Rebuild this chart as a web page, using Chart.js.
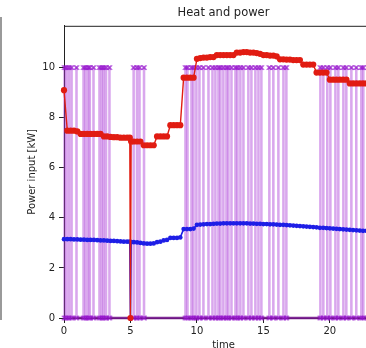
<!DOCTYPE html>
<html>
<head>
<meta charset="utf-8">
<script src="https://cdn.jsdelivr.net/npm/chart.js@4"></script>
<style>
  html, body { margin: 0; padding: 0; background: #fff; overflow: hidden; }
  #wrap { position: relative; width: 366px; height: 348px; overflow: hidden; }
  #chart { position: absolute; left: 0; top: 0; }
  /* right spine of the neighbouring subplot, cut by the crop */
  #edge { position: absolute; left: 0; top: 17px; width: 2px; height: 303px; background: #9a9a9a; }
</style>
</head>
<body>
<div id="wrap">
  <div id="edge"></div>
  <canvas id="chart" width="400" height="360"></canvas>
</div>
<script>
// sample times [h] shared by heat and power
const timeH = [0, 0.25, 0.5, 0.75, 1, 1.25, 1.5, 1.75, 2, 2.25, 2.5, 2.75, 3, 3.25, 3.5, 3.75, 4, 4.25, 4.5, 4.75,
  4.95, 5, 5.05,
  5.25, 5.5, 5.75, 6, 6.25, 6.5, 6.75, 7, 7.25, 7.5, 7.75, 8, 8.25, 8.5, 8.75, 9, 9.25, 9.5, 9.75,
  10, 10.25, 10.5, 10.75, 11, 11.25, 11.5, 11.75, 12, 12.25, 12.5, 12.75, 13, 13.25, 13.5, 13.75,
  14, 14.25, 14.5, 14.75, 15, 15.25, 15.5, 15.75, 16, 16.25, 16.5, 16.75, 17, 17.25, 17.5, 17.75,
  18, 18.25, 18.5, 18.75, 19, 19.25, 19.5, 19.75, 20, 20.25, 20.5, 20.75, 21, 21.25, 21.5, 21.75,
  22, 22.25, 22.5, 22.75, 23, 23.25, 23.5, 23.75];

// heat output [kW] (red)
const heatKW = [9.1, 7.48, 7.48, 7.48, 7.45,
  7.35, 7.35, 7.35, 7.35, 7.35, 7.35, 7.35,
  7.25, 7.25, 7.23, 7.22, 7.22, 7.2, 7.2, 7.2,
  7.2, 0, 7.05,
  7.05, 7.05, 7.05,
  6.9, 6.9, 6.9, 6.9,
  7.25, 7.25, 7.25, 7.25,
  7.7, 7.7, 7.7, 7.7,
  9.6, 9.6, 9.6, 9.6,
  10.35, 10.38, 10.4, 10.4, 10.42, 10.42,
  10.5, 10.5, 10.5, 10.5, 10.5, 10.5,
  10.6, 10.6, 10.62, 10.62, 10.6, 10.6, 10.58, 10.55,
  10.5, 10.5, 10.48, 10.48, 10.45,
  10.33, 10.33, 10.32, 10.32, 10.3, 10.3, 10.3,
  10.12, 10.12, 10.12, 10.12,
  9.8, 9.8, 9.8, 9.8,
  9.52, 9.52, 9.52, 9.52, 9.52, 9.52,
  9.37, 9.37, 9.37, 9.37, 9.37, 9.37,
  9.3, 9.3, 9.3, 9.3];

// electric power input [kW] (blue)
const powerKW = [3.15, 3.15, 3.15, 3.14, 3.14, 3.13, 3.13, 3.12, 3.12, 3.12, 3.11, 3.1, 3.1, 3.09, 3.08, 3.08, 3.07, 3.06, 3.05, 3.05,
  3.05, 0, 3.03,
  3.03, 3.02, 3.0,
  2.98, 2.97, 2.97, 2.98,
  3.03, 3.05, 3.1, 3.12,
  3.2, 3.2, 3.2, 3.22,
  3.55, 3.55, 3.55, 3.57,
  3.72, 3.73, 3.74, 3.75, 3.75, 3.76,
  3.77, 3.77, 3.78, 3.78, 3.78, 3.78,
  3.78, 3.78, 3.78, 3.78, 3.77, 3.77, 3.76, 3.76,
  3.75, 3.75, 3.74, 3.74, 3.73,
  3.72, 3.72, 3.71, 3.7, 3.69, 3.68, 3.67,
  3.66, 3.65, 3.64, 3.63,
  3.62, 3.6, 3.6, 3.59,
  3.58, 3.57, 3.56, 3.55, 3.54, 3.53,
  3.52, 3.51, 3.5, 3.49, 3.48, 3.48,
  3.47, 3.46, 3.46, 3.45];

// pump switching: on at pumpOn[i], off at pumpOff[i]
const pumpOn = [0.0, 0.15, 0.34, 0.53, 0.9, 1.43, 1.58, 1.77, 1.9, 2.18, 2.63, 2.8, 2.95, 3.12, 3.38,
  5.2, 5.45, 5.64, 5.98,
  9.1, 9.25, 9.55, 9.7, 9.92, 10.15, 10.45, 10.83, 11.13, 11.35, 11.58, 11.73, 11.95, 12.18, 12.33,
  12.56, 12.86, 13.01, 13.23, 13.46, 13.83, 14.06, 14.36, 14.59, 14.81, 15.41, 15.71, 16.09, 16.47, 16.69,
  19.25, 19.47, 19.77, 20.0, 20.38, 20.6, 20.98, 21.2, 21.58, 21.95, 22.33, 22.48, 22.85, 23.1, 23.45];
const pumpOff = [0.08, 0.23, 0.42, 0.61, 0.98, 1.51, 1.66, 1.85, 1.98, 2.26, 2.71, 2.88, 3.03, 3.2, 3.46,
  5.28, 5.53, 5.72, 6.06,
  9.18, 9.33, 9.63, 9.78, 10.0, 10.23, 10.53, 10.91, 11.21, 11.43, 11.66, 11.81, 12.03, 12.26, 12.41,
  12.64, 12.94, 13.09, 13.31, 13.54, 13.91, 14.14, 14.44, 14.67, 14.89, 15.49, 15.79, 16.17, 16.55, 16.77,
  19.33, 19.55, 19.85, 20.08, 20.46, 20.68, 21.06, 21.28, 21.66, 22.03, 22.41, 22.56, 22.93, 23.18, 23.53];
const pumpLevel = [0, 10]; // off, on

const xTicks = [0, 5, 10, 15, 20];
const yTicks = [0, 2, 4, 6, 8, 10];

const FONT = "'DejaVu Sans', sans-serif";
const INK = '#222';

const heatPts = timeH.map((t, i) => ({ x: t, y: heatKW[i] }));
const powerPts = timeH.map((t, i) => ({ x: t, y: powerKW[i] }));
const pumpPts = [];
pumpOn.forEach((t, i) => {
  pumpPts.push({ x: t, y: pumpLevel[0] }, { x: t, y: pumpLevel[1] },
               { x: pumpOff[i], y: pumpLevel[1] }, { x: pumpOff[i], y: pumpLevel[0] });
});

const atZero = c => c.p0.parsed.y === 0 && c.p1.parsed.y === 0;

// top/right spines
const frame = {
  id: 'frame',
  afterDatasetsDraw(chart) {
    const { ctx, chartArea: a } = chart;
    ctx.save();
    ctx.strokeStyle = INK;
    ctx.lineWidth = 1;
    ctx.beginPath();
    ctx.moveTo(a.left, a.top + 0.5);
    ctx.lineTo(a.right, a.top + 0.5);
    ctx.lineTo(a.right, a.bottom);
    ctx.stroke();
    ctx.restore();
  }
};

new Chart(document.getElementById('chart'), {
  type: 'line',
  data: {
    datasets: [
      {
        label: 'heat',
        data: heatPts,
        order: 1,
        borderColor: 'rgb(225,28,18)',
        borderWidth: 1.4,
        pointRadius: 3.1,
        pointBorderWidth: 0,
        pointBackgroundColor: 'rgb(225,28,18)',
        clip: 8
      },
      {
        label: 'power',
        data: powerPts,
        order: 2,
        borderColor: 'rgb(30,30,230)',
        borderWidth: 1.6,
        pointRadius: 2.3,
        pointBorderWidth: 0,
        pointBackgroundColor: 'rgb(30,30,230)',
        clip: 8
      },
      {
        label: 'pump',
        data: pumpPts,
        order: 3,
        borderColor: 'rgba(170,60,215,0.45)',
        borderWidth: 1.5,
        pointStyle: 'crossRot',
        pointRadius: 3.2,
        pointBorderWidth: 1.2,
        pointBorderColor: 'rgba(150,20,205,0.6)',
        segment: {
          borderColor: c => atZero(c) ? 'rgba(115,20,140,0.9)' : undefined,
          borderWidth: c => atZero(c) ? 2.5 : undefined
        },
        clip: 8
      }
    ]
  },
  options: {
    responsive: false,
    animation: false,
    devicePixelRatio: 1,
    layout: { padding: { left: 0, right: 17, top: 0, bottom: 0 } },
    plugins: {
      legend: { display: false },
      tooltip: { enabled: false },
      title: {
        display: true,
        text: 'Heat and power',
        fullSize: false,
        color: INK,
        font: { family: FONT, size: 11.5, weight: 'normal' },
        padding: { top: 6, bottom: 6 }
      }
    },
    scales: {
      x: {
        type: 'linear',
        min: 0,
        max: 24,
        afterFit: s => { s.height = 42; },
        afterBuildTicks: s => { s.ticks = xTicks.map(v => ({ value: v })); },
        grid: { drawOnChartArea: false, drawTicks: true, tickLength: 5, color: INK },
        border: { display: true, color: INK, width: 1 },
        ticks: { color: INK, padding: 2, maxRotation: 0, font: { family: FONT, size: 10 } },
        title: { display: true, text: 'time', color: INK, font: { family: FONT, size: 10 }, padding: { top: 0, bottom: 9 } }
      },
      y: {
        min: 0,
        max: 11.67,
        afterFit: s => { s.width = 64; },
        afterBuildTicks: s => { s.ticks = yTicks.map(v => ({ value: v })); },
        grid: { drawOnChartArea: false, drawTicks: true, tickLength: 5, color: INK },
        border: { display: true, color: INK, width: 1 },
        ticks: { color: INK, padding: 4, font: { family: FONT, size: 10 } },
        title: { display: true, text: 'Power input [kW]', color: INK, font: { family: FONT, size: 10 }, padding: { top: 26.5, bottom: 0 } }
      }
    }
  },
  plugins: [frame]
});
</script>
</body>
</html>
